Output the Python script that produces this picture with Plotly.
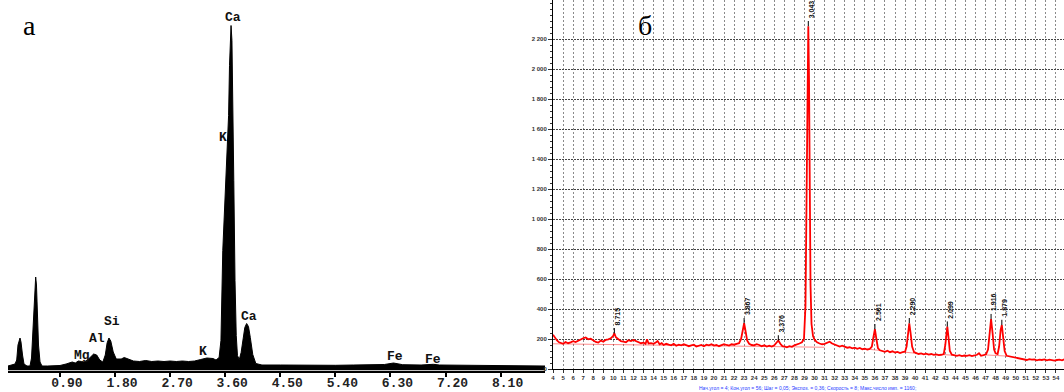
import plotly.graph_objects as go

# ---------------- Panel a: EDS spectrum ----------------
eds_energy = [0.05, 0.116, 0.165, 0.193, 0.214, 0.247, 0.263, 0.288, 0.312, 0.361,
              0.41, 0.435, 0.459, 0.484, 0.503, 0.516, 0.533, 0.549, 0.574, 0.606,
              0.70, 0.80, 0.90, 1.00, 1.05, 1.10, 1.15, 1.20, 1.25, 1.30,
              1.35, 1.40, 1.45, 1.50, 1.55, 1.60, 1.64, 1.67, 1.70, 1.73,
              1.77, 1.82, 1.90, 1.95, 2.00, 2.10, 2.20, 2.30, 2.40, 2.50,
              2.60, 2.70, 2.80, 2.90, 3.00, 3.10, 3.20, 3.30, 3.40, 3.45,
              3.50, 3.53, 3.56, 3.60, 3.63, 3.655, 3.67, 3.685, 3.695, 3.71,
              3.725, 3.74, 3.76, 3.78, 3.80, 3.83, 3.86, 3.89, 3.92, 3.95,
              3.98, 4.01, 4.05, 4.10, 4.20, 4.50, 4.80, 5.10, 5.40, 5.70,
              6.00, 6.20, 6.35, 6.40, 6.50, 6.80, 7.00, 7.10, 7.40, 7.70,
              8.00, 8.40, 8.825]
eds_counts = [45, 55, 65, 105, 255, 325, 285, 155, 65, 45,
              45, 125, 405, 705, 935, 855, 505, 255, 85, 45,
              45, 46, 50, 65, 75, 85, 75, 95, 90, 85,
              105, 135, 165, 155, 105, 85, 155, 275, 325, 295,
              185, 115, 115, 130, 120, 95, 90, 100, 90, 95,
              90, 95, 90, 95, 90, 95, 110, 125, 120, 105,
              130, 300, 1200, 1800, 2150, 2550, 3050, 3300, 3450, 3300,
              2800, 1900, 900, 350, 150, 110, 180, 330, 430, 470,
              440, 330, 160, 70, 55, 55, 52, 55, 52, 55,
              55, 60, 75, 70, 58, 55, 62, 55, 52, 50,
              48, 45, 45]
eds_tick_vals = [0.90, 1.80, 2.70, 3.60, 4.50, 5.40, 6.30, 7.20, 8.10]
eds_tick_text = ["0.90", "1.80", "2.70", "3.60", "4.50", "5.40", "6.30", "7.20", "8.10"]
eds_labels = ["Ca", "K", "Mg", "Al", "Si", "K", "Ca", "Fe", "Fe"]
eds_label_e = [3.73, 3.56, 1.26, 1.50, 1.75, 3.24, 3.99, 6.37, 6.99]
eds_label_c = [3535, 2335, 152, 322, 487, 187, 545, 137, 112]

# ---------------- Panel b: XRD pattern ----------------
xrd_2theta = [
    4.0, 4.2, 4.4, 4.6, 4.8, 5.0, 5.25, 5.5, 5.75, 6.0,
    6.25, 6.5, 6.75, 7.0, 7.25, 7.5, 7.75, 8.0, 8.25, 8.5,
    8.75, 9.0, 9.25, 9.5, 9.75, 9.95, 10.1, 10.25, 10.5, 10.75,
    11.0, 11.25, 11.5, 11.75, 12.0, 12.25, 12.5, 12.75, 13.0, 13.2,
    13.35, 13.5, 13.75, 14.0, 14.25, 14.4, 14.6, 14.8, 15.0, 15.25,
    15.5, 15.75, 16.0, 16.25, 16.5, 16.75, 17.0, 17.25, 17.5, 17.75,
    18.0, 18.25, 18.5, 18.75, 19.0, 19.25, 19.5, 19.75, 20.0, 20.25,
    20.5, 20.75, 21.0, 21.25, 21.5, 21.75, 22.0, 22.25, 22.5, 22.7,
    22.85, 23.0, 23.15, 23.3, 23.5, 23.75, 24.0, 24.25, 24.5, 24.75,
    25.0, 25.25, 25.5, 25.75, 26.0, 26.2, 26.4, 26.6, 26.8, 27.0,
    27.25, 27.5, 27.75, 28.0, 28.25, 28.5, 28.75, 28.95, 29.1, 29.2,
    29.3, 29.38, 29.45, 29.52, 29.6, 29.7, 29.85, 30.0, 30.25, 30.5,
    30.75, 31.0, 31.25, 31.5, 31.75, 32.0, 32.25, 32.5, 32.75, 33.0,
    33.25, 33.5, 33.75, 34.0, 34.25, 34.5, 34.75, 35.0, 35.25, 35.5,
    35.7, 35.85, 36.0, 36.15, 36.3, 36.5, 36.75, 37.0, 37.25, 37.5,
    37.75, 38.0, 38.25, 38.5, 38.75, 39.0, 39.15, 39.3, 39.42, 39.55,
    39.7, 39.9, 40.1, 40.35, 40.6, 40.85, 41.1, 41.35, 41.6, 41.85,
    42.1, 42.35, 42.6, 42.85, 43.0, 43.1, 43.2, 43.32, 43.45, 43.65,
    43.9, 44.15, 44.4, 44.65, 44.9, 45.15, 45.4, 45.65, 45.9, 46.15,
    46.35, 46.55, 46.8, 47.05, 47.25, 47.4, 47.55, 47.7, 47.85, 48.0,
    48.2, 48.35, 48.5, 48.62, 48.75, 48.9, 49.1, 49.35, 49.6, 49.85,
    50.1, 50.35, 50.6, 50.85, 51.1, 51.35, 51.6, 51.85, 52.1, 52.35,
    52.6, 52.85, 53.1, 53.35, 53.6, 53.85, 54.1, 54.35, 54.6, 54.85]
xrd_counts = [
    228, 205, 190, 178, 172, 168, 180, 172, 178, 185,
    180, 190, 198, 205, 210, 198, 202, 188, 180, 176,
    190, 182, 195, 198, 205, 218, 238, 212, 196, 185,
    182, 178, 192, 186, 194, 188, 180, 172, 176, 168,
    198, 170, 172, 168, 178, 186, 165, 172, 160, 168,
    162, 158, 168, 155, 162, 158, 165, 160, 152, 158,
    162, 150, 155, 160, 152, 162, 158, 165, 156, 160,
    152, 158, 166, 160, 156, 165, 162, 168, 172, 200,
    262, 305, 250, 190, 168, 160, 158, 165, 160, 152,
    158, 150, 156, 150, 158, 172, 190, 168, 152, 150,
    145, 152, 148, 158, 162, 170, 178, 200, 420, 1200,
    2050, 2285, 1950, 1150, 560, 300, 220, 195, 178, 170,
    165, 168, 176, 182, 170, 162, 158, 150, 155, 148,
    142, 145, 138, 142, 135, 140, 132, 136, 130, 134,
    150, 210, 265, 200, 140, 125, 120, 115, 122, 112,
    118, 110, 114, 106, 112, 115, 150, 250, 305, 240,
    150, 112, 105, 100, 104, 98, 102, 96, 100, 94,
    97, 92, 95, 100, 160, 240, 282, 210, 120, 95,
    92, 88, 92, 86, 90, 88, 92, 86, 90, 95,
    105, 88, 92, 98, 130, 250, 332, 240, 130, 105,
    100, 150, 260, 293, 210, 120, 88, 84, 82, 78,
    76, 70, 66, 64, 60, 66, 62, 64, 58, 62,
    60, 64, 58, 62, 60, 56, 60, 62, 58, 64]
bg_2theta = [4.0, 31.0, None, 35.6, 36.5, None, 39.0, 39.9, None, 42.8, 43.7, None, 47.0, 49.1]
bg_counts = [168, 145, None, 130, 124, None, 112, 106, None, 96, 92, None, 94, 86]

peak_2theta = [10.1, 23.0, 26.4, 29.38, 36.0, 39.42, 43.2, 47.55, 48.62]
peak_counts = [238, 305, 190, 2285, 265, 305, 282, 332, 293]
peak_d = ["8.715", "3.867", "3.376", "3.043", "2.501", "2.290", "2.099", "1.916", "1.879"]

xrd_ticks = list(range(4, 55))
y2_ticks = [0, 200, 400, 600, 800, 1000, 1200, 1400, 1600, 1800, 2000, 2200]
y2_text = ["0", "200", "400", "600", "800", "1 000", "1 200", "1 400", "1 600", "1 800", "2 000", "2 200"]

W, H = 1064, 392
fig = go.Figure()

fig.add_trace(go.Scatter(x=eds_energy, y=eds_counts, mode="lines", fill="tozeroy",
                         fillcolor="black", line=dict(color="black", width=1),
                         xaxis="x", yaxis="y", hoverinfo="skip"))

fig.add_trace(go.Scatter(x=bg_2theta, y=bg_counts, mode="lines",
                         line=dict(color="rgba(255,0,0,0.45)", width=1),
                         xaxis="x2", yaxis="y2", connectgaps=False, hoverinfo="skip"))
fig.add_trace(go.Scatter(x=xrd_2theta, y=xrd_counts, mode="lines",
                         line=dict(color="#ff0000", width=1.8),
                         xaxis="x2", yaxis="y2", hoverinfo="skip"))

tick_x, tick_y = [], []
for p, h in zip(peak_2theta, peak_counts):
    tick_x += [p, p, None]
    tick_y += [h, h + 35, None]
fig.add_trace(go.Scatter(x=tick_x, y=tick_y, mode="lines",
                         line=dict(color="black", width=1),
                         xaxis="x2", yaxis="y2", hoverinfo="skip"))

annotations = []
for t, e, c in zip(eds_labels, eds_label_e, eds_label_c):
    annotations.append(dict(text=t, x=e, y=c, xref="x", yref="y", showarrow=False,
                            font=dict(family="Liberation Mono", size=13, color="#111", weight="bold")))
for p, h, d in zip(peak_2theta, peak_counts, peak_d):
    annotations.append(dict(text=d, x=p, y=h + 35, xref="x2", yref="y2", showarrow=False,
                            textangle=-90, xanchor="center", yanchor="bottom", xshift=3, yshift=1,
                            font=dict(family="Liberation Sans", size=7, color="#111", weight="bold")))
annotations.append(dict(text="а", x=29 / W, y=(H - 43) / H, xref="paper", yref="paper",
                        showarrow=False, xanchor="center", yanchor="bottom",
                        font=dict(family="Liberation Serif", size=28, color="black")))
annotations.append(dict(text="б", x=645 / W, y=(H - 43) / H, xref="paper", yref="paper",
                        showarrow=False, xanchor="center", yanchor="bottom",
                        font=dict(family="Liberation Serif", size=28, color="black")))
annotations.append(dict(text="Нач.угол = 4; Кон.угол = 56; Шаг = 0,05; Экспоз. = 0,36; Скорость = 8; Макс.число имп. = 1160;",
                        x=807 / W, y=(H - 388) / H, xref="paper", yref="paper",
                        showarrow=False, xanchor="center", yanchor="middle",
                        font=dict(family="Liberation Sans", size=5, color="#1f3cff")))

fig.update_layout(
    width=W, height=H,
    margin=dict(l=0, r=0, t=0, b=0, pad=0),
    paper_bgcolor="white", plot_bgcolor="rgba(0,0,0,0)",
    showlegend=False,
    annotations=annotations,
    xaxis=dict(domain=[8 / W, 545 / W], range=[0.0507, 8.825], anchor="y",
               showline=True, linecolor="black", linewidth=2,
               showgrid=False, zeroline=False,
               ticks="outside", ticklen=4, tickwidth=2, tickcolor="black",
               ticklabelstandoff=-5, ticklabelshift=7,
               tickvals=eds_tick_vals, ticktext=eds_tick_text,
               tickfont=dict(family="Liberation Mono", size=13, color="#222", weight="bold"),
               automargin=False),
    yaxis=dict(domain=[(H - 370.5) / H, 1], range=[0, 3705], anchor="x", visible=False),
    xaxis2=dict(domain=[553 / W, 1], range=[4, 54.8], anchor="y2",
                showline=True, linecolor="black", linewidth=1,
                showgrid=True, gridcolor="#8a8a8a", gridwidth=1, griddash="2px,2px",
                zeroline=False, ticks="outside", ticklen=3, tickcolor="#333",
                tickvals=xrd_ticks,
                tickfont=dict(family="Liberation Sans", size=6, color="#333", weight="bold"),
                automargin=False),
    yaxis2=dict(domain=[(H - 369) / H, 1], range=[0, 2460], anchor="x2",
                showline=True, linecolor="black", linewidth=1,
                showgrid=True, gridcolor="#444", gridwidth=1, griddash="2px,1px",
                zeroline=False, ticks="outside", ticklen=4, tickcolor="#333",
                tickvals=y2_ticks, ticktext=y2_text,
                minor=dict(dtick=40, ticklen=2, tickcolor="#333", ticks="outside", showgrid=False),
                tickfont=dict(family="Liberation Sans", size=6, color="#333", weight="bold"),
                automargin=False),
)

fig.write_html("out.html", config={"displayModeBar": False},
               post_script="document.body.style.margin='0';document.body.style.overflow='hidden';")
